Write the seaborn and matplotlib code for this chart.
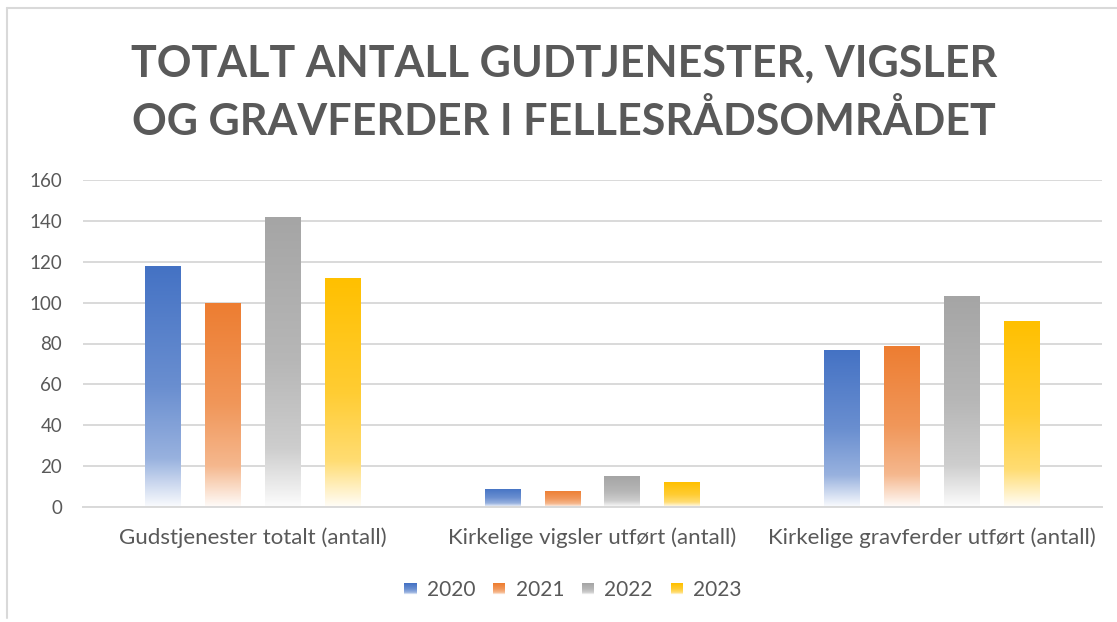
import numpy as np
import pandas as pd
import matplotlib
matplotlib.use("Agg")
import matplotlib.pyplot as plt
import seaborn as sns
from matplotlib.patches import Rectangle
from matplotlib.legend_handler import HandlerBase
from matplotlib.colors import to_rgb

# data
categories = ["Gudstjenester totalt (antall)",
              "Kirkelige vigsler utført (antall)",
              "Kirkelige gravferder utført (antall)"]
years = ["2020", "2021", "2022", "2023"]
v2020 = [118, 9, 77]
v2021 = [100, 8, 79]
v2022 = [142, 15, 103]
v2023 = [112, 12, 91]
colors = ["#4472C4", "#ED7D31", "#A5A5A5", "#FFC000"]

rows = []
for yr, vals in zip(years, [v2020, v2021, v2022, v2023]):
    for cat, v in zip(categories, vals):
        rows.append({"kategori": cat, "aar": yr, "antall": v})
df = pd.DataFrame(rows)

sns.set_theme(style="white")
plt.rcParams['font.family'] = ['Lato', 'DejaVu Sans']
text_col = "#595959"

# white-mix stops from top (0) to bottom (1) of each bar
stops_t = [0.0, 0.5, 0.8, 1.0]
stops_w = [0.0, 0.2, 0.45, 0.97]


def gradient(color, n=200):
    t = np.linspace(0, 1, n)
    w = np.interp(t, stops_t, stops_w)
    c = np.array(to_rgb(color))
    g = c[None, :] * (1 - w[:, None]) + w[:, None]
    return g[:, None, :]


class GradHandler(HandlerBase):
    def create_artists(self, legend, orig_handle, xdescent, ydescent,
                       width, height, fontsize, trans):
        side = width
        x0 = xdescent
        y0 = -ydescent + (height - side) / 2
        g = gradient(orig_handle.get_facecolor(), n=12)[:, 0, :]
        arts = []
        n = len(g)
        for i, c in enumerate(g):
            r = Rectangle((x0, y0 + side * (n - 1 - i) / n), side, side / n,
                          facecolor=c, edgecolor="none", transform=trans)
            arts.append(r)
        return arts


fig = plt.figure(figsize=(11.17, 6.22), dpi=100)
ax = fig.add_axes([83 / 1117, 1 - 507 / 622, (1102 - 83) / 1117, 327 / 622])

sns.barplot(data=df, x="kategori", y="antall", hue="aar", palette=colors,
            width=0.706, gap=0.4, ax=ax, legend=False, saturation=1)

for i, p in enumerate(list(ax.patches)):
    col = colors[i // len(categories)]
    x, w, h = p.get_x(), p.get_width(), p.get_height()
    im = ax.imshow(gradient(col), extent=[x, x + w, 0, h], aspect="auto",
                   origin="upper", zorder=2, interpolation="bilinear")
    im.set_clip_path(p)
    p.set_facecolor("none")
    p.set_edgecolor("none")

ax.set_xlim(-0.5, 2.5)
ax.set_ylim(0, 160)
ax.set_yticks(range(0, 161, 20))
ax.yaxis.grid(True, color="#D9D9D9", lw=1.4)
ax.set_axisbelow(True)
for s in ["top", "right", "left"]:
    ax.spines[s].set_visible(False)
ax.spines["bottom"].set_color("#D9D9D9")
ax.spines["bottom"].set_linewidth(1.4)
ax.tick_params(axis="both", length=0, colors=text_col)
ax.tick_params(axis="y", pad=15, labelsize=13.5)
ax.tick_params(axis="x", pad=15, labelsize=16)
ax.set_xlabel("")
ax.set_ylabel("")

fig.text(564 / 1117, 1 - 93 / 622,
         "TOTALT ANTALL GUDTJENESTER, VIGSLER\nOG GRAVFERDER I FELLESRÅDSOMRÅDET",
         ha="center", va="center", fontsize=31, fontweight="bold",
         color=text_col, linespacing=1.45)

handles = [Rectangle((0, 0), 1, 1, facecolor=c) for c in colors]
fig.legend(handles, years, loc="center", bbox_to_anchor=(573 / 1117, 1 - 590 / 622),
           ncol=4, frameon=False, fontsize=15, labelcolor=text_col,
           handler_map={Rectangle: GradHandler()}, handlelength=0.58,
           handletextpad=0.5, columnspacing=0.85)

# chart frame (left and top edge)
fig.add_artist(plt.Line2D([7 / 1117, 7 / 1117], [1 - 8 / 622, 1 - 618 / 622],
                          color="#D9D9D9", lw=1.5, transform=fig.transFigure))
fig.add_artist(plt.Line2D([7 / 1117, 1], [1 - 8 / 622, 1 - 8 / 622],
                          color="#D9D9D9", lw=1.5, transform=fig.transFigure))

fig.savefig("out.png", dpi=100)
